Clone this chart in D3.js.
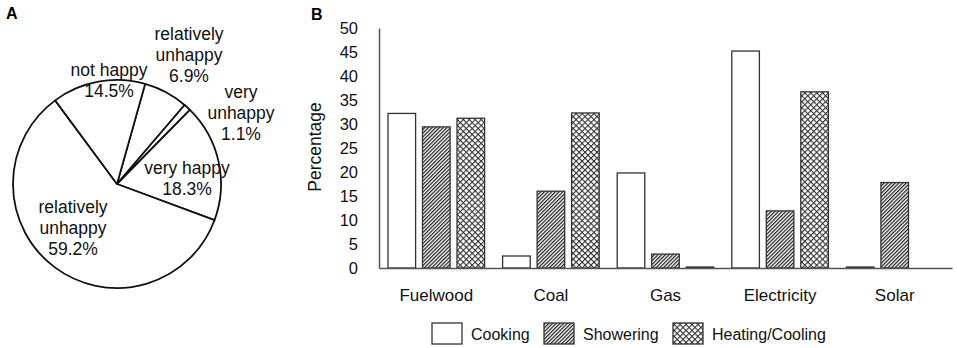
<!DOCTYPE html>
<html><head><meta charset="utf-8">
<script src="https://cdn.jsdelivr.net/npm/d3@7"></script>
<style>body{margin:0;background:#fff}svg{display:block;font-family:"Liberation Sans",Arial,sans-serif}</style>
</head><body>
<svg id="c" width="957" height="348"></svg>
<script>
// Pie data (panel A)
const pieLabels = [["relatively","unhappy","6.9%"],["very","unhappy","1.1%"],["very happy","18.3%"],["relatively","unhappy","59.2%"],["not happy","14.5%"]];
const pieValues = [6.9, 1.1, 18.3, 59.2, 14.5];
// Bar data (panel B)
const categories = ["Fuelwood","Coal","Gas","Electricity","Solar"];
const seriesNames = ["Cooking","Showering","Heating/Cooling"];
const cooking = [32.2, 2.5, 19.8, 45.2, 0.2];
const showering = [29.4, 16.0, 2.9, 11.9, 17.8];
const heating = [31.2, 32.3, 0.2, 36.7, 0];
const yTicks = [0,5,10,15,20,25,30,35,40,45,50];

const svg = d3.select("#c");
const defs = svg.append("defs");
const p1 = defs.append("pattern").attr("id","hatch").attr("patternUnits","userSpaceOnUse").attr("width",2.6).attr("height",2.6).attr("patternTransform","rotate(45)");
p1.append("rect").attr("width",2.6).attr("height",2.6).attr("fill","#fff");
p1.append("line").attr("x1",0.6).attr("y1",0).attr("x2",0.6).attr("y2",2.6).attr("stroke","#222").attr("stroke-width",1.3);
const p2 = defs.append("pattern").attr("id","cross").attr("patternUnits","userSpaceOnUse").attr("width",4.2).attr("height",4.2).attr("patternTransform","rotate(45)");
p2.append("rect").attr("width",4.2).attr("height",4.2).attr("fill","#fff");
p2.append("line").attr("x1",0.5).attr("y1",0).attr("x2",0.5).attr("y2",4.2).attr("stroke","#333").attr("stroke-width",1.2);
p2.append("line").attr("x1",0).attr("y1",0.5).attr("x2",4.2).attr("y2",0.5).attr("stroke","#333").attr("stroke-width",1.2);
const fills = ["#fff","url(#hatch)","url(#cross)"];

// Panel A
svg.append("text").attr("x",6).attr("y",19).attr("font-weight","bold").attr("font-size",16).text("A");
const cx=117, cy=184, r=104;
const off = 15.7*Math.PI/180;
const pie = d3.pie().sort(null).startAngle(off).endAngle(off+2*Math.PI)(pieValues);
const arc = d3.arc().innerRadius(0).outerRadius(r);
const gp = svg.append("g").attr("transform",`translate(${cx},${cy})`);
gp.selectAll("path").data(pie).join("path").attr("d",arc).attr("fill","#fff").attr("stroke","#111").attr("stroke-width",1.8).attr("stroke-linejoin","round");
const labelPos = [[189,34],[241,92],[187,168],[73,207],[109,70]];
pieLabels.forEach((lines,i)=>{
  const t = svg.append("text").attr("text-anchor","middle").attr("font-size",17.5).attr("fill","#111");
  lines.forEach((l,j)=>t.append("tspan").attr("x",labelPos[i][0]).attr("y",labelPos[i][1]+j*20.7).attr("dy","0.35em").text(l));
});

// Panel B
svg.append("text").attr("x",311).attr("y",20).attr("font-weight","bold").attr("font-size",16).text("B");
const x0 = d3.scaleBand().domain(categories).range([379,952]);
const x1 = d3.scaleBand().domain(seriesNames).range([9,x0.bandwidth()-9]).paddingInner(0.2);
const y = d3.scaleLinear().domain([0,50]).range([268,28]);
const data = categories.map((c,i)=>({c, v:[cooking[i],showering[i],heating[i]]}));
const gb = svg.append("g");
data.forEach(d=>{
  d.v.forEach((v,k)=>{
    if(v<=0) return;
    gb.append("rect").attr("x",x0(d.c)+x1(seriesNames[k])).attr("y",y(v)).attr("width",x1.bandwidth()).attr("height",y(0)-y(v))
      .attr("fill",fills[k]).attr("stroke","#333").attr("stroke-width",1.3);
  });
});
// axes
const ya = svg.append("g").attr("transform","translate(379,0)").call(d3.axisLeft(y).tickValues(yTicks).tickSize(0).tickPadding(21));
ya.select(".domain").attr("stroke","#555").attr("stroke-width",1.5);
ya.selectAll("text").attr("font-size",16.5).attr("font-family","Liberation Sans, Arial, sans-serif").attr("fill","#111");
const xa = svg.append("g").attr("transform","translate(0,268)").call(d3.axisBottom(x0).tickSize(0).tickPadding(21));
xa.select(".domain").attr("stroke","#555").attr("stroke-width",1.5);
xa.selectAll("text").attr("font-size",17).attr("font-family","Liberation Sans, Arial, sans-serif").attr("fill","#111");
svg.append("text").attr("transform","translate(321,147) rotate(-90)").attr("text-anchor","middle").attr("font-size",17.5).attr("fill","#111").text("Percentage");

// Legend
const legX = [432,544,673];
seriesNames.forEach((s,k)=>{
  svg.append("rect").attr("x",legX[k]).attr("y",323).attr("width",30).attr("height",21).attr("fill",fills[k]).attr("stroke","#333").attr("stroke-width",1.3);
  svg.append("text").attr("x",legX[k]+39).attr("y",334).attr("dy","0.35em").attr("font-size",16).attr("fill","#111").text(s);
});
</script>
</body></html>
